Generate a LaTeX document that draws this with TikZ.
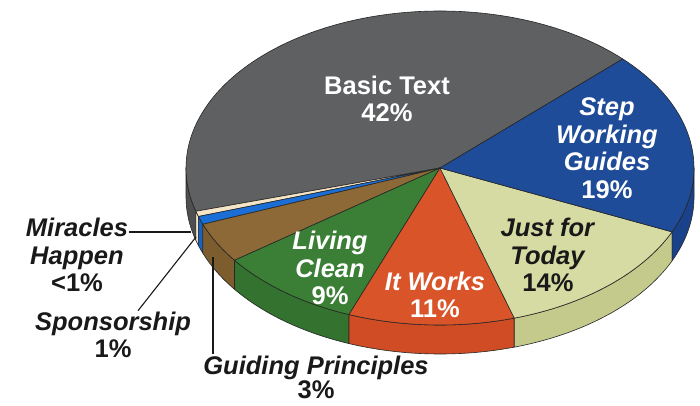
\documentclass[tikz,border=0pt]{standalone}
\usepackage{fontspec}
\setmainfont{Liberation Sans}
\usetikzlibrary{positioning}

\definecolor{basictop}{HTML}{5F6062}
\definecolor{basicside}{HTML}{4E4F51}
\definecolor{steptop}{HTML}{1F4C98}
\definecolor{stepside}{HTML}{1A428A}
\definecolor{justtop}{HTML}{D5DBA2}
\definecolor{justside}{HTML}{C3CA8C}
\definecolor{workstop}{HTML}{DA5429}
\definecolor{worksside}{HTML}{CF4C24}
\definecolor{livingtop}{HTML}{3A7F35}
\definecolor{livingside}{HTML}{33732F}
\definecolor{guidtop}{HTML}{8C6937}
\definecolor{guidside}{HTML}{7D5D2E}
\definecolor{spontop}{HTML}{1B6ED6}
\definecolor{sponside}{HTML}{1862C0}
\definecolor{mirtop}{HTML}{F4E5C6}

\tikzset{
  rim/.style={draw=black!85, line width=0.6pt, line join=round},
  lbl/.style={font=\fontsize{25.5}{27.5}\selectfont\bfseries, align=center, inner sep=1pt},
  lead/.style={line width=1.1pt, draw=black!90},
}

\begin{document}
\begin{tikzpicture}[x=1pt,y=1pt]
  \useasboundingbox[fill=white] (0,0) rectangle (700,405);

  \begin{scope}[shift={(440,237)}]
    \filldraw[rim, fill=basicside] (180:254pt and 157pt) arc[start angle=180, end angle=196, x radius=254pt, y radius=157pt] -- ++(0,-29) arc[start angle=196, end angle=180, x radius=254pt, y radius=157pt] -- cycle;
    \filldraw[rim, fill=mirtop] (196:254pt and 157pt) arc[start angle=196, end angle=198, x radius=254pt, y radius=157pt] -- ++(0,-29) arc[start angle=198, end angle=196, x radius=254pt, y radius=157pt] -- cycle;
    \filldraw[rim, fill=sponside] (198:254pt and 157pt) arc[start angle=198, end angle=201, x radius=254pt, y radius=157pt] -- ++(0,-29) arc[start angle=201, end angle=198, x radius=254pt, y radius=157pt] -- cycle;
    \filldraw[rim, fill=guidside] (201:254pt and 157pt) arc[start angle=201, end angle=216, x radius=254pt, y radius=157pt] -- ++(0,-29) arc[start angle=216, end angle=201, x radius=254pt, y radius=157pt] -- cycle;
    \filldraw[rim, fill=livingside] (216:254pt and 157pt) arc[start angle=216, end angle=249, x radius=254pt, y radius=157pt] -- ++(0,-29) arc[start angle=249, end angle=216, x radius=254pt, y radius=157pt] -- cycle;
    \filldraw[rim, fill=worksside] (249:254pt and 157pt) arc[start angle=249, end angle=287, x radius=254pt, y radius=157pt] -- ++(0,-29) arc[start angle=287, end angle=249, x radius=254pt, y radius=157pt] -- cycle;
    \filldraw[rim, fill=justside] (287:254pt and 157pt) arc[start angle=287, end angle=336, x radius=254pt, y radius=157pt] -- ++(0,-29) arc[start angle=336, end angle=287, x radius=254pt, y radius=157pt] -- cycle;
    \filldraw[rim, fill=stepside] (336:254pt and 157pt) arc[start angle=336, end angle=360, x radius=254pt, y radius=157pt] -- ++(0,-29) arc[start angle=360, end angle=336, x radius=254pt, y radius=157pt] -- cycle;

    \filldraw[rim, fill=basictop] (0,0) -- (44:254pt and 157pt) arc[start angle=44, end angle=196, x radius=254pt, y radius=157pt] -- cycle;
    \filldraw[rim, fill=mirtop] (0,0) -- (196:254pt and 157pt) arc[start angle=196, end angle=198, x radius=254pt, y radius=157pt] -- cycle;
    \filldraw[rim, fill=spontop] (0,0) -- (198:254pt and 157pt) arc[start angle=198, end angle=201, x radius=254pt, y radius=157pt] -- cycle;
    \filldraw[rim, fill=guidtop] (0,0) -- (201:254pt and 157pt) arc[start angle=201, end angle=216, x radius=254pt, y radius=157pt] -- cycle;
    \filldraw[rim, fill=livingtop] (0,0) -- (216:254pt and 157pt) arc[start angle=216, end angle=249, x radius=254pt, y radius=157pt] -- cycle;
    \filldraw[rim, fill=workstop] (0,0) -- (249:254pt and 157pt) arc[start angle=249, end angle=287, x radius=254pt, y radius=157pt] -- cycle;
    \filldraw[rim, fill=justtop] (0,0) -- (287:254pt and 157pt) arc[start angle=287, end angle=336, x radius=254pt, y radius=157pt] -- cycle;
    \filldraw[rim, fill=steptop] (0,0) -- (336:254pt and 157pt) arc[start angle=336, end angle=404, x radius=254pt, y radius=157pt] -- cycle;
  \end{scope}

  \node[lbl, text=white] (basic) at (387,306) {Basic Text\\42\%};
  \node[lbl, text=white] (step) at (607,257) {\textit{Step}\\\textit{Working}\\\textit{Guides}\\19\%};
  \node[lbl, text=black!90] (just) at (548,150) {\textit{Just for}\\\textit{Today}\\14\%};
  \node[lbl, text=white] (works) at (435,110) {\textit{It Works}\\11\%};
  \node[lbl, text=white] (living) at (330,137) {\textit{Living}\\\textit{Clean}\\9\%};

  \node[lbl, text=black!90] (mir) at (77,150) {\textit{Miracles}\\\textit{Happen}\\<1\%};
  \node[lbl, text=black!90] (spon) at (113,70) {\textit{Sponsorship}\\1\%};
  \node[lbl, text=black!90, font=\fontsize{25.5}{24}\selectfont\bfseries] (guid) at (316,28) {\textit{Guiding Principles}\\3\%};

  \coordinate (mirtip) at (191,173);
  \coordinate (spontip) at (196,168);
  \coordinate (guidtip) at (213,148);
  \draw[lead] (mir.east |- mirtip) -- (mirtip);
  \draw[lead] ([xshift=25pt]spon.north) -- (spontip);
  \draw[lead] ([xshift=-103pt]guid.north) -- (guidtip);
\end{tikzpicture}
\end{document}
